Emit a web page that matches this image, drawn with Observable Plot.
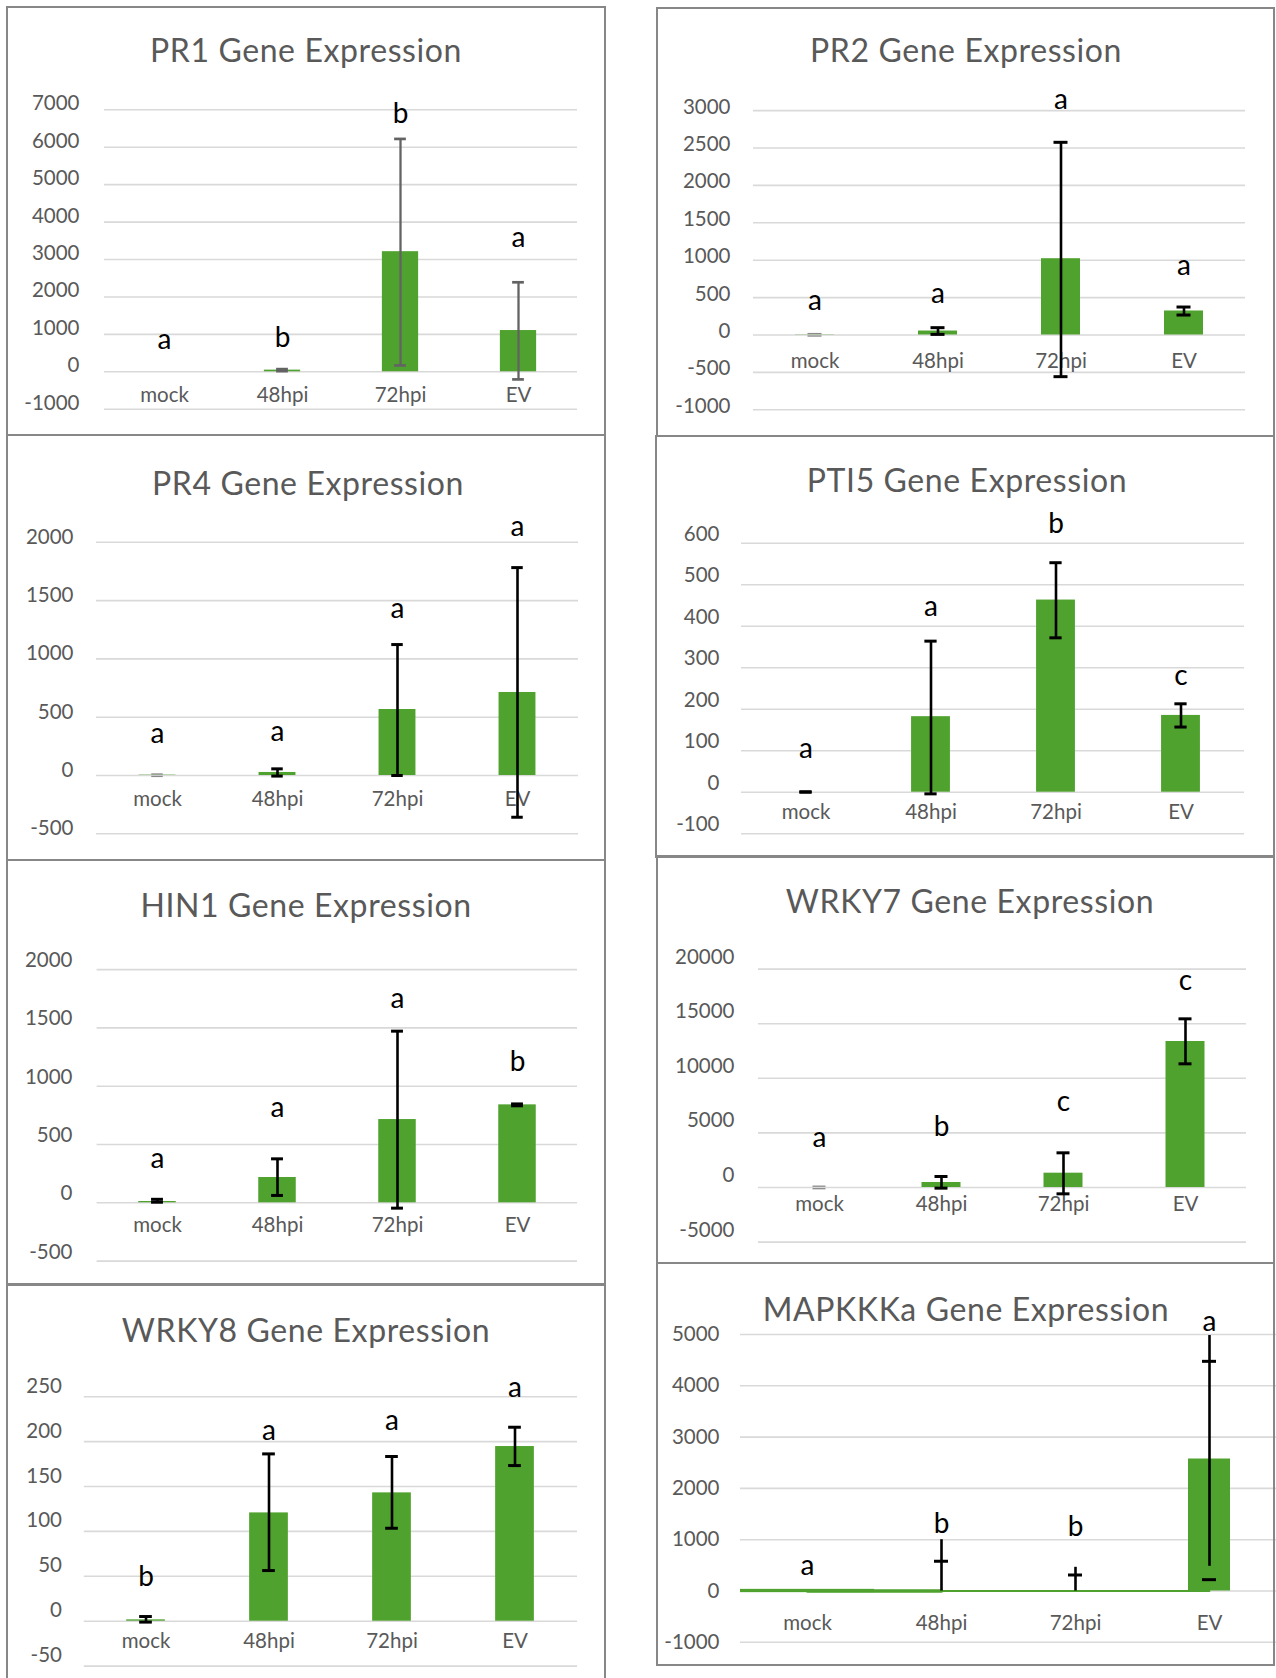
<!DOCTYPE html>
<html>
<head>
<meta charset="utf-8">
<script src="https://cdn.jsdelivr.net/npm/d3@7"></script>
<script src="https://cdn.jsdelivr.net/npm/@observablehq/plot@0.6"></script>
<style>
html, body { margin: 0; padding: 0; background: #fff; overflow: hidden; width: 1276px; height: 1678px; }
#root { position: relative; width: 1276px; height: 1678px; font-family: Lato, sans-serif; overflow: hidden; }
.box { position: absolute; border: 2.3px solid #878787; box-sizing: border-box; pointer-events: none; }
.title { position: absolute; transform: translate(-50%, -50%); color: #595959; font-size: 32px; letter-spacing: 0.6px; line-height: 1; white-space: nowrap; font-family: Lato, sans-serif; }
.plot { position: absolute; }
</style>
</head>
<body>
<div id="root"></div>
<script>
// ---------------- DATA ----------------
const categories = ["mock", "48hpi", "72hpi", "EV"];

// PR1
const pr1Ticks = [-1000, 0, 1000, 2000, 3000, 4000, 5000, 6000, 7000];
const pr1Mean = [0, 44, 3209, 1102];
const pr1Low = [null, 17, 169, -204];
const pr1High = [null, 71, 6222, 2391];
const pr1Letters = ["a", "b", "b", "a"];
const pr1LetterY = [853, 907, 6898, 3573];

// PR2
const pr2Ticks = [-1000, -500, 0, 500, 1000, 1500, 2000, 2500, 3000];
const pr2Mean = [3, 53, 1020, 321];
const pr2Low = [-14, 8, -557, 267];
const pr2High = [19, 98, 2576, 374];
const pr2Letters = ["a", "a", "a", "a"];
const pr2LetterY = [455, 553, 3137, 922];

// PR4
const pr4Ticks = [-500, 0, 500, 1000, 1500, 2000];
const pr4Mean = [3, 26, 566, 712];
const pr4Low = [-8, -5, 0, -358];
const pr4High = [13, 57, 1123, 1783];
const pr4Letters = ["a", "a", "a", "a"];
const pr4LetterY = [357, 372, 1429, 2129];

// PTI5
const pti5Ticks = [-100, 0, 100, 200, 300, 400, 500, 600];
const pti5Mean = [0, 182, 463, 185];
const pti5Low = [0, -4, 372, 157];
const pti5High = [1, 364, 553, 213];
const pti5Letters = ["a", "a", "b", "c"];
const pti5LetterY = [104, 446, 646, 281];

// HIN1
const hin1Ticks = [-500, 0, 500, 1000, 1500, 2000];
const hin1Mean = [11, 217, 714, 840];
const hin1Low = [5, 63, -46, 832];
const hin1High = [30, 377, 1472, 848];
const hin1Letters = ["a", "a", "a", "b"];
const hin1LetterY = [377, 815, 1749, 1206];

// WRKY7
const wrky7Ticks = [-5000, 0, 5000, 10000, 15000, 20000];
const wrky7Mean = [0, 458, 1311, 13370];
const wrky7Low = [-110, -60, -580, 11325];
const wrky7High = [120, 1007, 3175, 15445];
const wrky7Letters = ["a", "b", "c", "c"];
const wrky7LetterY = [4548, 5525, 7815, 18895];

// WRKY8
const wrky8Ticks = [-50, 0, 50, 100, 150, 200, 250];
const wrky8Mean = [1.5, 120.6, 142.9, 194.5];
const wrky8Low = [-1, 56.4, 103.5, 173.3];
const wrky8High = [5.2, 186.3, 183.4, 216];
const wrky8Letters = ["b", "a", "a", "a"];
const wrky8LetterY = [49.7, 211.6, 222.7, 259.8];

// MAPKKKa
const mapkTicks = [-1000, 0, 1000, 2000, 3000, 4000, 5000];
const mapkMean = [0, 0, 0, 2573];
const mapkLow = [null, 0, 0, 481];
const mapkHigh = [null, 1000, 462, 4980];
const mapkCapCats = ["48hpi", "72hpi", "EV", "EV"];
const mapkCapY = [580, 312, 4477, 221];
const mapkLetters = ["a", "b", "b", "a"];
const mapkLetterY = [494, 1306, 1241, 5250];
const mapkBaseBand = ["mock"];
const mapkBaseLow = [-32];
const mapkBaseHigh = [32];
const mapkBaseThick = ["mock", "48hpi"];
const mapkBaseThin = ["48hpi", "72hpi", "EV"];

// ---------------- LAYOUT / STYLE ----------------
const GREEN = "#4fa22e";
const FS = 20.5;
const LETTER_FS = 28;

const panels = [
  {title: "PR1 Gene Expression", ticks: pr1Ticks, mean: pr1Mean, low: pr1Low, high: pr1High, letters: pr1Letters, letterY: pr1LetterY,
   L: {box: [6, 6, 606, 436], grid: [104, 577], yPix: [408.7, 109.3], tickRight: 79, tickDy: -6, catY: 395, title: [306, 49.7], barW: 36.5, capW: 12, errColor: "#636363", errW: 2.3, thinMock: false}},
  {title: "PR2 Gene Expression", ticks: pr2Ticks, mean: pr2Mean, low: pr2Low, high: pr2High, letters: pr2Letters, letterY: pr2LetterY,
   L: {box: [656, 6.5, 1275, 436.5], grid: [753, 1245], yPix: [408.8, 109.6], tickRight: 730, tickDy: -3.5, catY: 360, title: [966, 50], barW: 39, capW: 14, errColor: "#000", errW: 2.6, thinMock: true}},
  {title: "PR4 Gene Expression", ticks: pr4Ticks, mean: pr4Mean, low: pr4Low, high: pr4High, letters: pr4Letters, letterY: pr4LetterY,
   L: {box: [6, 434, 606, 861], grid: [96, 578], yPix: [833.3, 541.8], tickRight: 73, tickDy: -5, catY: 799, title: [308, 483], barW: 37.4, capW: 12, errColor: "#000", errW: 2.6, thinMock: true}},
  {title: "PTI5 Gene Expression", ticks: pti5Ticks, mean: pti5Mean, low: pti5Low, high: pti5High, letters: pti5Letters, letterY: pti5LetterY,
   L: {box: [655, 435, 1275, 858], grid: [741, 1244], yPix: [833.2, 542.7], tickRight: 719, tickDy: -9, catY: 811.7, title: [967, 479.7], barW: 39.6, capW: 13, errColor: "#000", errW: 2.6, thinMock: false}},
  {title: "HIN1 Gene Expression", ticks: hin1Ticks, mean: hin1Mean, low: hin1Low, high: hin1High, letters: hin1Letters, letterY: hin1LetterY,
   L: {box: [6, 859, 606, 1286], grid: [96.6, 577], yPix: [1260.6, 969.1], tickRight: 72, tickDy: -9, catY: 1224.3, title: [306, 904.7], barW: 37.6, capW: 12, errColor: "#000", errW: 2.6, thinMock: false}},
  {title: "WRKY7 Gene Expression", ticks: wrky7Ticks, mean: wrky7Mean, low: wrky7Low, high: wrky7High, letters: wrky7Letters, letterY: wrky7LetterY,
   L: {box: [656, 855, 1275, 1263.5], grid: [758, 1246], yPix: [1241.6, 968.6], tickRight: 734, tickDy: -12, catY: 1203.3, title: [970, 900.7], barW: 39, capW: 13, errColor: "#000", errW: 2.6, thinMock: true}},
  {title: "WRKY8 Gene Expression", ticks: wrky8Ticks, mean: wrky8Mean, low: wrky8Low, high: wrky8High, letters: wrky8Letters, letterY: wrky8LetterY,
   L: {box: [6, 1283, 606, 1690], grid: [83.8, 577], yPix: [1665.6, 1396.2], tickRight: 61.5, tickDy: -10.5, catY: 1640.7, title: [306, 1329.7], barW: 39, capW: 13, errColor: "#000", errW: 2.6, thinMock: false}},
  {title: "MAPKKKa Gene Expression", ticks: mapkTicks, mean: mapkMean, low: mapkLow, high: mapkHigh, letters: mapkLetters, letterY: mapkLetterY,
   caps: mapkCapCats.map((c, i) => ({cat: c, y: mapkCapY[i]})),
   extra: "mapk",
   L: {box: [656, 1261.5, 1275, 1665.5], grid: [740, 1276], yPix: [1641.3, 1333.5], tickRight: 719, tickDy: 0, catY: 1622, title: [966, 1308.7], barW: 42, capW: 14, errColor: "#000", errW: 2.6, thinMock: false}}
];

const root = document.getElementById("root");

function drawPanel(p) {
  const L = p.L;
  const rows = categories.map((c, i) => ({cat: c, mean: p.mean[i], lo: p.low[i], hi: p.high[i], letter: p.letters[i], ly: p.letterY[i]}));
  const band = (L.grid[1] - L.grid[0]) / categories.length;
  const barInset = (band - L.barW) / 2;
  const capInset = (band - L.capW) / 2;
  const errRows = rows.filter(r => r.lo != null);
  const caps = p.caps ? p.caps : errRows.flatMap(r => [{cat: r.cat, y: r.lo}, {cat: r.cat, y: r.hi}]);
  const svgRight = Math.max(L.box[2], L.grid[1]);
  const W = svgRight - L.box[0];
  const H = L.box[3] - L.box[1];
  const isThin = d => L.thinMock && d.cat === "mock";
  const mainCaps = caps.filter(d => !isThin(d));
  const thinCaps = caps.filter(d => isThin(d));
  const mainErr = errRows.filter(d => !isThin(d));

  const extra = [];
  if (p.extra === "mapk") {
    extra.push(Plot.barY(mapkBaseBand.map((c, i) => ({cat: c, y1: mapkBaseLow[i], y2: mapkBaseHigh[i]})), {x: "cat", y1: "y1", y2: "y2", fill: GREEN}));
    extra.push(Plot.line(mapkBaseThick.map(c => ({cat: c, v: 0})), {x: "cat", y: "v", stroke: GREEN, strokeWidth: 3.4}));
    extra.push(Plot.line(mapkBaseThin.map(c => ({cat: c, v: 0})), {x: "cat", y: "v", stroke: GREEN, strokeWidth: 1.8}));
  }

  const svg = Plot.plot({
    width: W,
    height: H,
    marginLeft: L.grid[0] - L.box[0],
    marginRight: svgRight - L.grid[1],
    marginTop: L.yPix[1] - L.box[1],
    marginBottom: L.box[3] - L.yPix[0],
    x: {type: "band", domain: categories, padding: 0},
    y: {domain: [p.ticks[0], p.ticks[p.ticks.length - 1]]},
    style: {background: "transparent", fontFamily: "Lato, sans-serif", overflow: "visible", maxWidth: "none"},
    marks: [
      Plot.ruleY(p.ticks, {stroke: "#d9d9d9", strokeWidth: 1.6}),
      Plot.axisY({ticks: p.ticks, tickSize: 0, tickPadding: L.grid[0] - L.tickRight, dy: L.tickDy, tickFormat: v => String(v), fontSize: FS, color: "#595959", label: null}),
      Plot.axisX({tickSize: 0, tickPadding: 0, dy: L.catY - L.yPix[0] - 0.38 * FS, fontSize: FS, color: "#595959", label: null}),
      ...extra,
      Plot.barY(rows, {x: "cat", y: "mean", fill: GREEN, insetLeft: barInset, insetRight: barInset}),
      Plot.ruleX(mainErr, {x: "cat", y1: "lo", y2: "hi", stroke: L.errColor, strokeWidth: L.errW}),
      Plot.tickY(mainCaps, {x: "cat", y: "y", stroke: L.errColor, strokeWidth: L.errW + 0.4, insetLeft: capInset, insetRight: capInset}),
      Plot.tickY(thinCaps, {x: "cat", y: "y", stroke: "#8a8a8a", strokeWidth: 1.3, insetLeft: capInset, insetRight: capInset}),
      Plot.text(rows, {x: "cat", y: "ly", text: "letter", fontSize: LETTER_FS, fill: "#000"})
    ]
  });
  const wrap = document.createElement("div");
  wrap.className = "plot";
  wrap.style.left = L.box[0] + "px";
  wrap.style.top = L.box[1] + "px";
  wrap.style.width = W + "px";
  wrap.style.height = H + "px";
  wrap.appendChild(svg);
  root.appendChild(wrap);

  const t = document.createElement("div");
  t.className = "title";
  t.textContent = p.title;
  t.style.left = L.title[0] + "px";
  t.style.top = L.title[1] + "px";
  root.appendChild(t);
}

panels.forEach(drawPanel);

panels.forEach(p => {
  const L = p.L;
  const b = document.createElement("div");
  b.className = "box";
  b.style.left = L.box[0] + "px";
  b.style.top = L.box[1] + "px";
  b.style.width = (L.box[2] - L.box[0]) + "px";
  b.style.height = (L.box[3] - L.box[1]) + "px";
  root.appendChild(b);
});
</script>
</body>
</html>
